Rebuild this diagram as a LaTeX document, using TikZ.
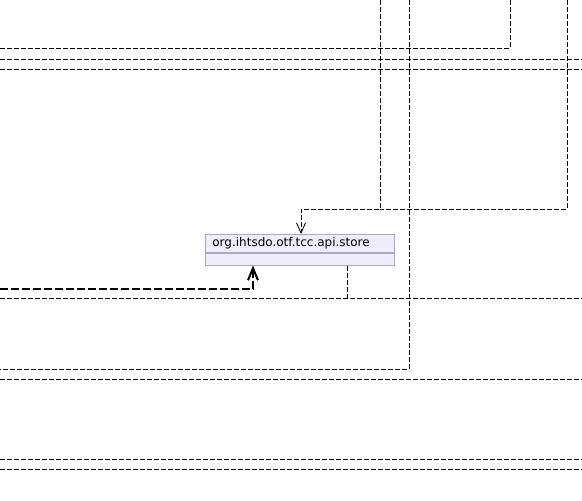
\documentclass[tikz,border=0pt]{standalone}
\usepackage{fontspec}
\setmainfont{DejaVu Sans}
\usetikzlibrary{arrows.meta,positioning}
\definecolor{classfill}{HTML}{EEEEFB}
\definecolor{classborder}{HTML}{A8A8C8}

\begin{document}
\begin{tikzpicture}[
  x=1pt,
  y=-1pt,
  line join=miter,
  dep/.style={draw=black,line width=0.9pt,dash pattern=on 5pt off 2pt},
  depuse/.style={draw=black,line width=2pt,dash pattern=on 8pt off 3pt},
  thintip/.style={-{Straight Barb[length=10pt,width=9pt,line width=0.9pt]}},
  thicktip/.style={-{Straight Barb[length=12pt,width=10pt,line width=2pt]}},
  pkghead/.style={draw=classborder,fill=classfill,line width=0.8pt,
    anchor=north west,minimum height=18pt,text width=175pt,inner xsep=7pt,
    inner ysep=0pt,align=left,font=\fontsize{12}{13}\selectfont},
  pkgbody/.style={draw=classborder,fill=classfill,line width=0.8pt,
    minimum width=189pt,minimum height=12pt,inner sep=0pt}
]
  % Page frame of the reference crop.
  \useasboundingbox (0,0) rectangle (582,501);

  % The one package box visible in this part of the diagram.
  \node[pkghead] (storehead) at (205,234) {org.ihtsdo.otf.tcc.api.store};
  \node[pkgbody,below=0pt of storehead] (storebody) {};

  % Attachment points on the box.
  \coordinate (inTip) at ([xshift=96pt]storehead.north west);
  \coordinate (useTip) at ([xshift=48pt]storebody.south west);
  \coordinate (outFoot) at ([xshift=142pt]storebody.south west);

  % Free ends of connectors that leave the picture.
  \coordinate (topA) at (380,0);
  \coordinate (topB) at (567,0);
  \coordinate (topC) at (409,0);
  \coordinate (topD) at (510,0);
  \coordinate (leftC) at (0,369);
  \coordinate (leftD) at (0,48);
  \coordinate (leftUse) at (0,289);

  % Incoming dependencies merging above the box.
  \draw[dep,thintip] (topA) |- (301,209) -- (inTip);
  \draw[dep] (topB) |- (380,209);

  % Thick usage arrow from the left.
  \draw[depuse,thicktip] (leftUse) -| (useTip);

  % Outgoing dependency from the box bottom.
  \draw[dep] (outFoot) -- (347,298);

  % Bent connectors passing by.
  \draw[dep] (topC) |- (leftC);
  \draw[dep] (topD) |- (leftD);

  % Straight connectors crossing the whole width.
  \foreach \y in {59,69,298,379,459,469} {
    \draw[dep] (0,\y) -- (582,\y);
  }
\end{tikzpicture}
\end{document}
